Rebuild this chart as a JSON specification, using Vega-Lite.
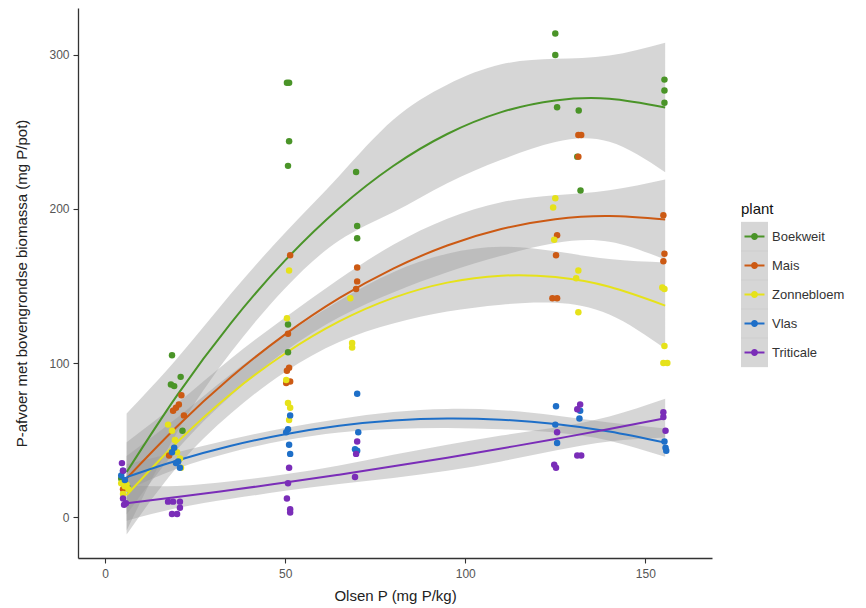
{
  "$schema": "https://vega.github.io/schema/vega-lite/v6.json",
  "autosize": {"type": "none"},
  "width": 634,
  "height": 550,
  "padding": {"left": 78, "top": 8, "right": 154, "bottom": 50},
  "background": "white",
  "config": {
    "view": {"stroke": null},
    "font": "Liberation Sans",
    "axis": {"grid": false, "domainColor": "#333333", "domainWidth": 1.3, "tickColor": "#333333", "tickWidth": 1.1, "tickSize": 5,
             "labelFont": "Liberation Sans", "labelFontSize": 12, "labelColor": "#555555",
             "titleFont": "Liberation Sans", "titleFontSize": 15, "titleFontWeight": "normal", "titleColor": "#222222"}
  },
  "datasets": {
    "pts": [
      {"plant": "Boekweit", "x": 4.5, "y": 25}, {"plant": "Boekweit", "x": 6.3, "y": 19}, {"plant": "Boekweit", "x": 5.5, "y": 22},
      {"plant": "Boekweit", "x": 18.6, "y": 105}, {"plant": "Boekweit", "x": 18.3, "y": 86}, {"plant": "Boekweit", "x": 19.2, "y": 85}, {"plant": "Boekweit", "x": 21, "y": 91}, {"plant": "Boekweit", "x": 21.5, "y": 56},
      {"plant": "Boekweit", "x": 50.5, "y": 282}, {"plant": "Boekweit", "x": 51.1, "y": 282}, {"plant": "Boekweit", "x": 51.1, "y": 244}, {"plant": "Boekweit", "x": 50.8, "y": 228}, {"plant": "Boekweit", "x": 50.8, "y": 125}, {"plant": "Boekweit", "x": 50.8, "y": 107},
      {"plant": "Boekweit", "x": 69.7, "y": 224}, {"plant": "Boekweit", "x": 70, "y": 189}, {"plant": "Boekweit", "x": 70, "y": 181},
      {"plant": "Boekweit", "x": 125, "y": 314}, {"plant": "Boekweit", "x": 125, "y": 300}, {"plant": "Boekweit", "x": 125.5, "y": 266}, {"plant": "Boekweit", "x": 131.5, "y": 264}, {"plant": "Boekweit", "x": 131.1, "y": 234}, {"plant": "Boekweit", "x": 132, "y": 212},
      {"plant": "Boekweit", "x": 155.3, "y": 284}, {"plant": "Boekweit", "x": 155.3, "y": 277}, {"plant": "Boekweit", "x": 155.3, "y": 269},
      {"plant": "Mais", "x": 5, "y": 18}, {"plant": "Mais", "x": 5.6, "y": 22},
      {"plant": "Mais", "x": 21.2, "y": 79}, {"plant": "Mais", "x": 19.7, "y": 71}, {"plant": "Mais", "x": 18.9, "y": 69}, {"plant": "Mais", "x": 21.9, "y": 66}, {"plant": "Mais", "x": 20.5, "y": 73}, {"plant": "Mais", "x": 17.8, "y": 40},
      {"plant": "Mais", "x": 51.4, "y": 170}, {"plant": "Mais", "x": 50.8, "y": 119}, {"plant": "Mais", "x": 51.1, "y": 97}, {"plant": "Mais", "x": 50.5, "y": 95}, {"plant": "Mais", "x": 51.4, "y": 88}, {"plant": "Mais", "x": 50.3, "y": 87},
      {"plant": "Mais", "x": 70, "y": 162}, {"plant": "Mais", "x": 70, "y": 153}, {"plant": "Mais", "x": 69.7, "y": 148},
      {"plant": "Mais", "x": 125.5, "y": 183}, {"plant": "Mais", "x": 125.2, "y": 170}, {"plant": "Mais", "x": 124.2, "y": 142}, {"plant": "Mais", "x": 125.5, "y": 142},
      {"plant": "Mais", "x": 131.4, "y": 248}, {"plant": "Mais", "x": 132.2, "y": 248}, {"plant": "Mais", "x": 131.4, "y": 234},
      {"plant": "Mais", "x": 155, "y": 196}, {"plant": "Mais", "x": 155.3, "y": 171}, {"plant": "Mais", "x": 155, "y": 166},
      {"plant": "Zonnebloem", "x": 4.5, "y": 22}, {"plant": "Zonnebloem", "x": 5.5, "y": 20}, {"plant": "Zonnebloem", "x": 6.5, "y": 18}, {"plant": "Zonnebloem", "x": 5, "y": 15}, {"plant": "Zonnebloem", "x": 6, "y": 21},
      {"plant": "Zonnebloem", "x": 17.5, "y": 60}, {"plant": "Zonnebloem", "x": 18.6, "y": 56}, {"plant": "Zonnebloem", "x": 19.4, "y": 50}, {"plant": "Zonnebloem", "x": 20, "y": 42}, {"plant": "Zonnebloem", "x": 20.8, "y": 38}, {"plant": "Zonnebloem", "x": 21.1, "y": 32},
      {"plant": "Zonnebloem", "x": 51.1, "y": 160}, {"plant": "Zonnebloem", "x": 50.5, "y": 129}, {"plant": "Zonnebloem", "x": 50.3, "y": 89}, {"plant": "Zonnebloem", "x": 50.8, "y": 74}, {"plant": "Zonnebloem", "x": 51.4, "y": 71}, {"plant": "Zonnebloem", "x": 51.1, "y": 63},
      {"plant": "Zonnebloem", "x": 68.1, "y": 142}, {"plant": "Zonnebloem", "x": 68.6, "y": 113}, {"plant": "Zonnebloem", "x": 68.6, "y": 110},
      {"plant": "Zonnebloem", "x": 125, "y": 207}, {"plant": "Zonnebloem", "x": 124.4, "y": 201}, {"plant": "Zonnebloem", "x": 124.7, "y": 180},
      {"plant": "Zonnebloem", "x": 131.4, "y": 160}, {"plant": "Zonnebloem", "x": 130.8, "y": 155}, {"plant": "Zonnebloem", "x": 131.4, "y": 133},
      {"plant": "Zonnebloem", "x": 154.7, "y": 149}, {"plant": "Zonnebloem", "x": 155.3, "y": 148}, {"plant": "Zonnebloem", "x": 155.3, "y": 111}, {"plant": "Zonnebloem", "x": 156.1, "y": 100}, {"plant": "Zonnebloem", "x": 155, "y": 100},
      {"plant": "Vlas", "x": 5, "y": 30}, {"plant": "Vlas", "x": 4.5, "y": 27}, {"plant": "Vlas", "x": 5.5, "y": 24},
      {"plant": "Vlas", "x": 19.2, "y": 45}, {"plant": "Vlas", "x": 18.6, "y": 42}, {"plant": "Vlas", "x": 20.3, "y": 36}, {"plant": "Vlas", "x": 20.8, "y": 32}, {"plant": "Vlas", "x": 19.7, "y": 35},
      {"plant": "Vlas", "x": 51.4, "y": 66}, {"plant": "Vlas", "x": 50.8, "y": 57}, {"plant": "Vlas", "x": 50.3, "y": 55}, {"plant": "Vlas", "x": 51.1, "y": 47}, {"plant": "Vlas", "x": 51.4, "y": 41},
      {"plant": "Vlas", "x": 70, "y": 80}, {"plant": "Vlas", "x": 70.3, "y": 55}, {"plant": "Vlas", "x": 69.4, "y": 44}, {"plant": "Vlas", "x": 70, "y": 43},
      {"plant": "Vlas", "x": 125.2, "y": 72}, {"plant": "Vlas", "x": 125, "y": 60}, {"plant": "Vlas", "x": 125.5, "y": 48},
      {"plant": "Vlas", "x": 131.9, "y": 69}, {"plant": "Vlas", "x": 131.7, "y": 64},
      {"plant": "Vlas", "x": 155.3, "y": 49}, {"plant": "Vlas", "x": 155.6, "y": 45}, {"plant": "Vlas", "x": 155.8, "y": 43},
      {"plant": "Triticale", "x": 4.7, "y": 35}, {"plant": "Triticale", "x": 5, "y": 30}, {"plant": "Triticale", "x": 5, "y": 12}, {"plant": "Triticale", "x": 5.3, "y": 8}, {"plant": "Triticale", "x": 5.8, "y": 9},
      {"plant": "Triticale", "x": 17.5, "y": 10}, {"plant": "Triticale", "x": 18.9, "y": 10}, {"plant": "Triticale", "x": 20.8, "y": 10}, {"plant": "Triticale", "x": 18.6, "y": 2}, {"plant": "Triticale", "x": 20, "y": 2}, {"plant": "Triticale", "x": 20.8, "y": 6},
      {"plant": "Triticale", "x": 51.1, "y": 32}, {"plant": "Triticale", "x": 50.8, "y": 22}, {"plant": "Triticale", "x": 50.5, "y": 12}, {"plant": "Triticale", "x": 51.4, "y": 5}, {"plant": "Triticale", "x": 51.4, "y": 3},
      {"plant": "Triticale", "x": 70, "y": 49}, {"plant": "Triticale", "x": 69.7, "y": 41}, {"plant": "Triticale", "x": 69.4, "y": 26},
      {"plant": "Triticale", "x": 125.5, "y": 55}, {"plant": "Triticale", "x": 124.7, "y": 34}, {"plant": "Triticale", "x": 125.2, "y": 32},
      {"plant": "Triticale", "x": 131.9, "y": 73}, {"plant": "Triticale", "x": 131.1, "y": 70}, {"plant": "Triticale", "x": 132.2, "y": 40}, {"plant": "Triticale", "x": 131.1, "y": 40},
      {"plant": "Triticale", "x": 155, "y": 68}, {"plant": "Triticale", "x": 155, "y": 65}, {"plant": "Triticale", "x": 155.6, "y": 56}
    ],
    "fits": [
      {"soort": "Boekweit", "x": 6, "fit": 29.2, "lo": -8.8, "hi": 67.2},
      {"soort": "Boekweit", "x": 20, "fit": 79.0, "lo": 55.0, "hi": 103.0},
      {"soort": "Boekweit", "x": 35, "fit": 126.1, "lo": 107.1, "hi": 145.1},
      {"soort": "Boekweit", "x": 50, "fit": 166.6, "lo": 148.6, "hi": 184.6},
      {"soort": "Boekweit", "x": 65, "fit": 200.5, "lo": 179.5, "hi": 221.5},
      {"soort": "Boekweit", "x": 80, "fit": 227.9, "lo": 197.9, "hi": 257.9},
      {"soort": "Boekweit", "x": 95, "fit": 248.7, "lo": 216.7, "hi": 280.7},
      {"soort": "Boekweit", "x": 110, "fit": 262.9, "lo": 231.9, "hi": 293.9},
      {"soort": "Boekweit", "x": 125, "fit": 270.5, "lo": 243.5, "hi": 297.5},
      {"soort": "Boekweit", "x": 140, "fit": 271.6, "lo": 243.6, "hi": 299.6},
      {"soort": "Boekweit", "x": 155.5, "fit": 265.9, "lo": 223.9, "hi": 307.9},
      {"soort": "Mais", "x": 6, "fit": 25.1, "lo": 1.6, "hi": 48.6},
      {"soort": "Mais", "x": 20, "fit": 58.8, "lo": 43.8, "hi": 73.8},
      {"soort": "Mais", "x": 35, "fit": 90.9, "lo": 78.9, "hi": 102.9},
      {"soort": "Mais", "x": 50, "fit": 118.6, "lo": 107.6, "hi": 129.6},
      {"soort": "Mais", "x": 65, "fit": 142.1, "lo": 129.7, "hi": 154.5},
      {"soort": "Mais", "x": 80, "fit": 161.3, "lo": 145.8, "hi": 176.8},
      {"soort": "Mais", "x": 95, "fit": 176.3, "lo": 158.9, "hi": 193.7},
      {"soort": "Mais", "x": 110, "fit": 187.0, "lo": 169.6, "hi": 204.4},
      {"soort": "Mais", "x": 125, "fit": 193.4, "lo": 177.9, "hi": 208.9},
      {"soort": "Mais", "x": 140, "fit": 195.5, "lo": 178.8, "hi": 212.2},
      {"soort": "Mais", "x": 155.5, "fit": 193.2, "lo": 167.2, "hi": 219.2},
      {"soort": "Zonnebloem", "x": 6, "fit": 14.2, "lo": -11.3, "hi": 39.7},
      {"soort": "Zonnebloem", "x": 20, "fit": 48.5, "lo": 32.5, "hi": 64.5},
      {"soort": "Zonnebloem", "x": 35, "fit": 80.1, "lo": 67.4, "hi": 92.8},
      {"soort": "Zonnebloem", "x": 50, "fit": 106.2, "lo": 94.2, "hi": 118.2},
      {"soort": "Zonnebloem", "x": 65, "fit": 127.0, "lo": 113.6, "hi": 140.4},
      {"soort": "Zonnebloem", "x": 80, "fit": 142.3, "lo": 125.6, "hi": 159.0},
      {"soort": "Zonnebloem", "x": 95, "fit": 152.2, "lo": 133.4, "hi": 171.0},
      {"soort": "Zonnebloem", "x": 110, "fit": 156.7, "lo": 137.9, "hi": 175.5},
      {"soort": "Zonnebloem", "x": 125, "fit": 155.8, "lo": 139.1, "hi": 172.5},
      {"soort": "Zonnebloem", "x": 140, "fit": 149.5, "lo": 131.5, "hi": 167.5},
      {"soort": "Zonnebloem", "x": 155.5, "fit": 137.3, "lo": 109.3, "hi": 165.3},
      {"soort": "Vlas", "x": 6, "fit": 25.9, "lo": 17.5, "hi": 34.3},
      {"soort": "Vlas", "x": 20, "fit": 36.7, "lo": 31.4, "hi": 42.0},
      {"soort": "Vlas", "x": 35, "fit": 46.3, "lo": 42.1, "hi": 50.5},
      {"soort": "Vlas", "x": 50, "fit": 53.8, "lo": 49.8, "hi": 57.8},
      {"soort": "Vlas", "x": 65, "fit": 59.3, "lo": 54.9, "hi": 63.7},
      {"soort": "Vlas", "x": 80, "fit": 62.7, "lo": 57.2, "hi": 68.2},
      {"soort": "Vlas", "x": 95, "fit": 64.0, "lo": 57.8, "hi": 70.2},
      {"soort": "Vlas", "x": 110, "fit": 63.2, "lo": 57.0, "hi": 69.4},
      {"soort": "Vlas", "x": 125, "fit": 60.4, "lo": 54.9, "hi": 65.9},
      {"soort": "Vlas", "x": 140, "fit": 55.5, "lo": 49.6, "hi": 61.4},
      {"soort": "Vlas", "x": 155.5, "fit": 48.3, "lo": 39.1, "hi": 57.5},
      {"soort": "Triticale", "x": 6, "fit": 9.0, "lo": -2.4, "hi": 20.4},
      {"soort": "Triticale", "x": 20, "fit": 13.0, "lo": 5.8, "hi": 20.2},
      {"soort": "Triticale", "x": 35, "fit": 17.5, "lo": 11.8, "hi": 23.2},
      {"soort": "Triticale", "x": 50, "fit": 22.4, "lo": 17.0, "hi": 27.8},
      {"soort": "Triticale", "x": 65, "fit": 27.5, "lo": 21.5, "hi": 33.5},
      {"soort": "Triticale", "x": 80, "fit": 32.9, "lo": 25.4, "hi": 40.4},
      {"soort": "Triticale", "x": 95, "fit": 38.5, "lo": 30.1, "hi": 46.9},
      {"soort": "Triticale", "x": 110, "fit": 44.5, "lo": 36.1, "hi": 52.9},
      {"soort": "Triticale", "x": 125, "fit": 50.7, "lo": 43.2, "hi": 58.2},
      {"soort": "Triticale", "x": 140, "fit": 57.2, "lo": 49.1, "hi": 65.3},
      {"soort": "Triticale", "x": 155.5, "fit": 64.2, "lo": 51.6, "hi": 76.8}
    ]
  },
  "layer": [
    {
      "data": {"name": "fits"},
      "mark": {"type": "area", "interpolate": "natural", "opacity": 0.4},
      "encoding": {
        "x": {"field": "x", "type": "quantitative", "scale": {"domain": [-7.5, 168.5], "nice": false, "zero": false},
              "axis": {"title": "Olsen P (mg P/kg)", "values": [0, 50, 100, 150], "labelPadding": 5, "titlePadding": 9}},
        "y": {"field": "lo", "type": "quantitative", "scale": {"domain": [-26.6, 330.5], "nice": false, "zero": false},
              "axis": {"title": "P-afvoer met bovengrondse biomassa (mg P/pot)", "values": [0, 100, 200, 300], "labelPadding": 4, "titlePadding": 19}},
        "y2": {"field": "hi"},
        "fill": {"field": "soort", "type": "nominal",
          "scale": {"domain": ["Triticale", "Vlas", "Zonnebloem", "Mais", "Boekweit"], "range": ["#999999", "#999999", "#999999", "#999999", "#999999"]},
          "legend": {
            "orient": "none", "legendX": 663, "legendY": 194, "zindex": 1,
            "title": " ", "titleFontSize": 15, "titleFont": "Liberation Sans", "titleFontWeight": "normal", "titleColor": "rgba(0,0,0,0)", "titlePadding": 6,
            "labelExpr": "''", "labelFontSize": 13, "labelColor": "rgba(0,0,0,0)", "labelFont": "Liberation Sans", "labelOffset": 4,
            "symbolType": "M-1,-1.085L1,-1.085L1,1.085L-1,1.085Z",
            "symbolSize": 729, "symbolStrokeWidth": 0, "symbolOpacity": 0.4, "symbolFillColor": "#999999",
            "rowPadding": -2
          }
        }
      }
    },
    {
      "data": {"name": "fits"},
      "mark": {"type": "line", "interpolate": "natural", "strokeWidth": 2},
      "encoding": {
        "x": {"field": "x", "type": "quantitative"},
        "y": {"field": "fit", "type": "quantitative"},
        "stroke": {"field": "soort", "type": "nominal",
          "scale": {"domain": ["Mais", "Boekweit", "Zonnebloem", "Vlas", "Triticale"], "range": ["#cc5a14", "#4a9428", "#e6e21a", "#1e6fc8", "#7a2db8"]},
          "legend": null}
      }
    },
    {
      "data": {"name": "pts"},
      "mark": {"type": "circle", "size": 42, "opacity": 1},
      "encoding": {
        "x": {"field": "x", "type": "quantitative"},
        "y": {"field": "y", "type": "quantitative"},
        "color": {"field": "plant", "type": "nominal",
          "scale": {"domain": ["Boekweit", "Mais", "Zonnebloem", "Vlas", "Triticale"], "range": ["#4a9428", "#cc5a14", "#e6e21a", "#1e6fc8", "#7a2db8"]},
          "legend": {
            "orient": "none", "legendX": 663, "legendY": 194, "zindex": 2,
            "title": "plant", "titleFontSize": 15, "titleFont": "Liberation Sans", "titleFontWeight": "normal", "titleColor": "#111111", "titlePadding": 6,
            "labelFontSize": 13, "labelColor": "#333333", "labelFont": "Liberation Sans", "labelOffset": 4,
            "symbolType": "M-1,-1.085M1,1.085M-0.74,-0.075L0.74,-0.075L0.74,0.075L-0.74,0.075Z M-0.26,0A0.26,0.26,0,1,1,0.26,0A0.26,0.26,0,1,1,-0.26,0Z",
            "symbolSize": 729, "symbolStrokeWidth": 0, "symbolOpacity": 1,
            "rowPadding": -2
          }
        }
      }
    }
  ]
}
